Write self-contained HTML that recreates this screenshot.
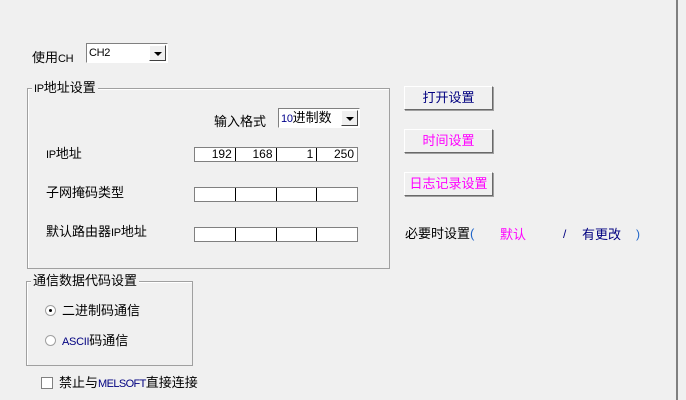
<!DOCTYPE html>
<html><head><meta charset="utf-8"><style>
body{margin:0;width:686px;height:400px;background:#f0f0f0;position:relative;overflow:hidden;font-family:"Liberation Sans","Noto Sans CJK SC","WenQuanYi Zen Hei",sans-serif;font-size:12px;color:#000}
.a{position:absolute;white-space:nowrap;line-height:14px}
.l{font-size:11px;letter-spacing:-0.3px}
.grp{position:absolute;border:1px solid #a0a0a0;box-shadow:1px 1px 0 #fff inset}
.lg{position:absolute;background:#f0f0f0;padding:0 2px;line-height:14px;top:-8px;left:4px}
.combo{position:absolute;background:#fff;border:1px solid;border-color:#808080 #fff #fff #808080;box-sizing:border-box}
.combo .t{position:absolute;left:2px;top:2px;line-height:14px}
.dd{position:absolute;right:1px;top:1px;width:17px;bottom:1px;background:#f0f0f0;border:1px solid;border-color:#fff #404040 #404040 #fff;box-sizing:border-box}
.dd:after{content:"";position:absolute;left:4px;top:6px;border-left:4px solid transparent;border-right:4px solid transparent;border-top:4px solid #000}
.ip{position:absolute;left:194px;width:164px;height:15px;border:1px solid #808080;background:#fff;box-sizing:border-box;display:flex}
.ip div{flex:1;border-right:1px solid #000;text-align:right;padding-right:3px;line-height:13px;font-size:12px}
.ip div:last-child{border-right:none}
.btn{position:absolute;left:404px;width:89px;height:24px;box-sizing:border-box;background:#f0f0f0;border:1px solid;border-color:#fff #696969 #696969 #fff;box-shadow:1px 1px 0 #a0a0a0;text-align:center;line-height:22px;font-size:13px}
.rad{position:absolute;width:11px;height:11px;border-radius:50%;background:#fff;border:1px solid #a0a0a0;box-sizing:border-box}
</style></head><body>
<div style="position:absolute;left:676px;top:0;width:2px;height:400px;background:#808080"></div>

<div class="a" style="left:32px;top:51px;font-size:13px">使用<span class="l">CH</span></div>
<div class="combo" style="left:86px;top:43px;width:82px;height:20px"><span class="t l">CH2</span><div class="dd"></div></div>

<div class="grp" style="left:27px;top:88px;width:361px;height:179px"><span class="lg" style="font-size:13px"><span class="l">IP</span>地址设置</span></div>
<div class="a" style="left:214px;top:115px;font-size:13px">输入格式</div>
<div class="combo" style="left:278px;top:108px;width:82px;height:20px"><span class="t" style="font-size:13px"><span class="l" style="color:#00008b">10</span>进制数</span><div class="dd"></div></div>

<div class="a" style="left:46px;top:147px;font-size:13px"><span class="l">IP</span>地址</div>
<div class="ip" style="top:147px"><div>192</div><div>168</div><div>1</div><div>250</div></div>
<div class="a" style="left:46px;top:186px;font-size:13px">子网掩码类型</div>
<div class="ip" style="top:187px"><div></div><div></div><div></div><div></div></div>
<div class="a" style="left:46px;top:225px;font-size:13px">默认路由器<span class="l">IP</span>地址</div>
<div class="ip" style="top:227px"><div></div><div></div><div></div><div></div></div>

<div class="btn" style="top:86px;color:#000080">打开设置</div>
<div class="btn" style="top:129px;color:#ff00ff">时间设置</div>
<div class="btn" style="top:172px;color:#ff00ff">日志记录设置</div>

<div class="a" style="left:405px;top:227px;font-size:13px">必要时设置<span style="color:#1e64c8">(</span></div>
<div class="a" style="left:500px;top:228px;color:#ff00ff;font-size:13px">默认</div>
<div class="a" style="left:563px;top:227px;color:#000080">/</div>
<div class="a" style="left:582px;top:228px;color:#000080;font-size:13px">有更改</div>
<div class="a" style="left:636px;top:227px;color:#1e64c8">)</div>

<div class="grp" style="left:26px;top:281px;width:165px;height:83px"><span class="lg" style="font-size:13px">通信数据代码设置</span></div>
<div class="rad" style="left:45px;top:305px"><div style="position:absolute;left:3px;top:3px;width:3px;height:3px;border-radius:50%;background:#000"></div></div>
<div class="a" style="left:62px;top:304px;font-size:13px">二进制码通信</div>
<div class="rad" style="left:45px;top:335px"></div>
<div class="a" style="left:62px;top:334px;font-size:13px"><span class="l" style="color:#000080">ASCII</span>码通信</div>

<div style="position:absolute;left:41px;top:377px;width:12px;height:12px;border:1px solid #808080;background:#fff;box-sizing:border-box"></div>
<div class="a" style="left:59px;top:376px;font-size:13px">禁止与<span class="l" style="color:#000080;letter-spacing:-0.6px">MELSOFT</span>直接连接</div>
</body></html>
